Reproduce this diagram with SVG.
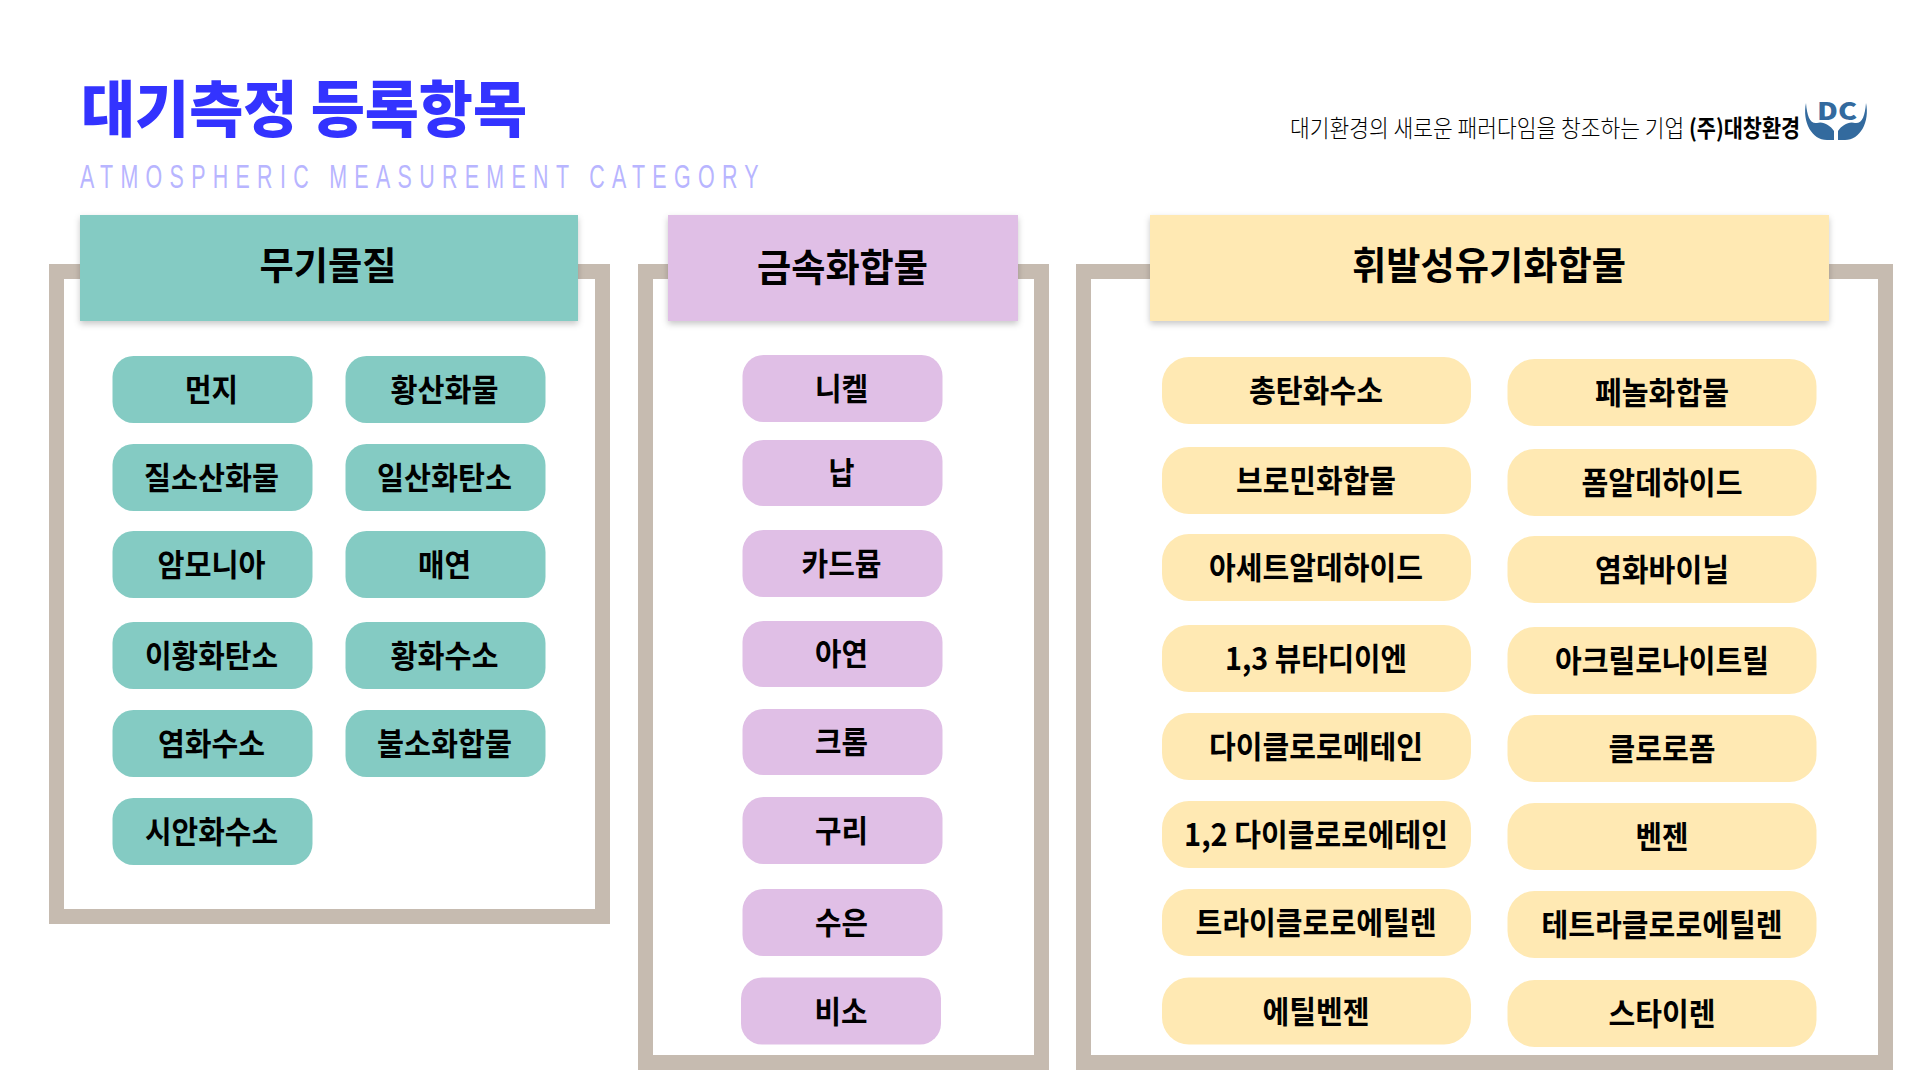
<svg xmlns="http://www.w3.org/2000/svg" width="1920" height="1080" viewBox="0 0 1920 1080">
<defs><filter id="sh" x="-5%" y="-10%" width="110%" height="125%"><feDropShadow dx="0" dy="3" stdDeviation="3" flood-color="#000" flood-opacity=".22"/></filter></defs>
<style>
text{font-family:"Noto Sans CJK KR","Noto Sans",sans-serif;text-anchor:middle;fill:#000}
.l{font-size:31px;font-weight:700}
.h{font-size:38px;font-weight:700}
.t{fill:#84cbc3}.p{fill:#e0bfe6}.y{fill:#ffe9b3}
.f{fill:none;stroke:#c6bbb0;stroke-width:15}
.b{fill:#336a9e}
</style>
<rect width="1920" height="1080" fill="#fff"/>
<g id="title"><text x="304" y="132" textLength="446" lengthAdjust="spacingAndGlyphs" style="font-size:61px;font-weight:900;fill:#3333ff">대기측정 등록항목</text>
<text transform="translate(80 188) scale(.65 1)" x="0" y="0" textLength="1044" lengthAdjust="spacing" style="font-family:'Liberation Sans',sans-serif;font-size:33px;fill:#b8b5ff;text-anchor:start">ATMOSPHERIC MEASUREMENT CATEGORY</text></g>
<g id="slogan"><text transform="translate(1290 137) scale(.895 1)" x="0" y="0" style="font-size:24px;font-weight:300;text-anchor:start">대기환경의 새로운 패러다임을 창조하는 기업</text>
<text transform="translate(1689 137) scale(.865 1)" x="0" y="0" style="font-size:24px;font-weight:700;text-anchor:start">(주)대창환경</text></g>
<g id="logo"><text x="1837" y="120" textLength="40" lengthAdjust="spacingAndGlyphs" style="font-size:24px;font-weight:900;fill:#336a9e">DC</text>
<path class="b" d="M1806 103C1802 122 1812 140 1827 140L1834 140L1834 131C1830 125 1823 121 1817 123C1810 124 1807 116 1806 103Z"/>
<path class="b" d="M1866 103C1870 122 1860 140 1845 140L1838 140L1838 131C1842 125 1849 121 1855 123C1862 124 1865 116 1866 103Z"/></g>
<g id="frames"><rect class="f" x="56.500" y="271.500" width="546" height="645"/><rect class="f" x="645.500" y="271.500" width="396" height="791"/><rect class="f" x="1083.500" y="271.500" width="802" height="791"/></g>
<g id="header-1"><rect class="t" x="80" y="215" width="498" height="106" filter="url(#sh)"/><text class="h" x="328" y="279" textLength="137" lengthAdjust="spacingAndGlyphs">무기물질</text></g>
<g id="header-2"><rect class="p" x="668" y="215" width="350" height="106" filter="url(#sh)"/><text class="h" x="842.500" y="281" textLength="171" lengthAdjust="spacingAndGlyphs">금속화합물</text></g>
<g id="header-3"><rect class="y" x="1150" y="215" width="679" height="106" filter="url(#sh)"/><text class="h" x="1489" y="279" textLength="274" lengthAdjust="spacingAndGlyphs">휘발성유기화합물</text></g>
<g id="inorganic">
<g id="n1"><rect class="t" x="112.500" y="356" width="200" height="67" rx="21"/><text class="l" x="211.500" y="401" textLength="53" lengthAdjust="spacingAndGlyphs">먼지</text></g>
<g id="n2"><rect class="t" x="345.500" y="356" width="200" height="67" rx="21"/><text class="l" x="444.500" y="401" textLength="108" lengthAdjust="spacingAndGlyphs">황산화물</text></g>
<g id="n3"><rect class="t" x="112.500" y="444" width="200" height="67" rx="21"/><text class="l" x="211.500" y="489" textLength="135" lengthAdjust="spacingAndGlyphs">질소산화물</text></g>
<g id="n4"><rect class="t" x="345.500" y="444" width="200" height="67" rx="21"/><text class="l" x="444.500" y="489" textLength="135" lengthAdjust="spacingAndGlyphs">일산화탄소</text></g>
<g id="n5"><rect class="t" x="112.500" y="531" width="200" height="67" rx="21"/><text class="l" x="211.500" y="576" textLength="108" lengthAdjust="spacingAndGlyphs">암모니아</text></g>
<g id="n6"><rect class="t" x="345.500" y="531" width="200" height="67" rx="21"/><text class="l" x="444.500" y="576" textLength="53" lengthAdjust="spacingAndGlyphs">매연</text></g>
<g id="n7"><rect class="t" x="112.500" y="622" width="200" height="67" rx="21"/><text class="l" x="211.500" y="667" textLength="133" lengthAdjust="spacingAndGlyphs">이황화탄소</text></g>
<g id="n8"><rect class="t" x="345.500" y="622" width="200" height="67" rx="21"/><text class="l" x="444.500" y="667" textLength="108" lengthAdjust="spacingAndGlyphs">황화수소</text></g>
<g id="n9"><rect class="t" x="112.500" y="710" width="200" height="67" rx="21"/><text class="l" x="211.500" y="755" textLength="107" lengthAdjust="spacingAndGlyphs">염화수소</text></g>
<g id="n10"><rect class="t" x="345.500" y="710" width="200" height="67" rx="21"/><text class="l" x="444.500" y="755" textLength="135" lengthAdjust="spacingAndGlyphs">불소화합물</text></g>
<g id="n11"><rect class="t" x="112.500" y="798" width="200" height="67" rx="21"/><text class="l" x="211.500" y="843" textLength="133" lengthAdjust="spacingAndGlyphs">시안화수소</text></g>
</g>
<g id="metal">
<g id="m1"><rect class="p" x="742.500" y="355" width="200" height="67" rx="21"/><text class="l" x="841.500" y="400" textLength="53" lengthAdjust="spacingAndGlyphs">니켈</text></g>
<g id="m2"><rect class="p" x="742.500" y="440" width="200" height="66" rx="21"/><text class="l" x="841.500" y="484" textLength="26" lengthAdjust="spacingAndGlyphs">납</text></g>
<g id="m3"><rect class="p" x="742.500" y="530" width="200" height="67" rx="21"/><text class="l" x="841.500" y="575" textLength="80" lengthAdjust="spacingAndGlyphs">카드뮴</text></g>
<g id="m4"><rect class="p" x="742.500" y="621" width="200" height="66" rx="21"/><text class="l" x="841.500" y="665" textLength="53" lengthAdjust="spacingAndGlyphs">아연</text></g>
<g id="m5"><rect class="p" x="742.500" y="709" width="200" height="66" rx="21"/><text class="l" x="841.500" y="753" textLength="53" lengthAdjust="spacingAndGlyphs">크롬</text></g>
<g id="m6"><rect class="p" x="742.500" y="797" width="200" height="67" rx="21"/><text class="l" x="841.500" y="842" textLength="53" lengthAdjust="spacingAndGlyphs">구리</text></g>
<g id="m7"><rect class="p" x="742.500" y="889" width="200" height="67" rx="21"/><text class="l" x="841.500" y="934" textLength="53" lengthAdjust="spacingAndGlyphs">수은</text></g>
<g id="m8"><rect class="p" x="741" y="977.500" width="200" height="67" rx="21"/><text class="l" x="841" y="1022.500" textLength="53" lengthAdjust="spacingAndGlyphs">비소</text></g>
</g>
<g id="voc-left">
<g id="v1"><rect class="y" x="1162" y="357" width="309" height="67" rx="27"/><text class="l" x="1316" y="402" textLength="134" lengthAdjust="spacingAndGlyphs">총탄화수소</text></g>
<g id="v2"><rect class="y" x="1162" y="447" width="309" height="67" rx="27"/><text class="l" x="1316" y="492" textLength="160" lengthAdjust="spacingAndGlyphs">브로민화합물</text></g>
<g id="v3"><rect class="y" x="1162" y="534" width="309" height="67" rx="27"/><text class="l" x="1316" y="579" textLength="214" lengthAdjust="spacingAndGlyphs">아세트알데하이드</text></g>
<g id="v4"><rect class="y" x="1162" y="625" width="309" height="67" rx="27"/><text class="l" x="1316" y="670" textLength="182" lengthAdjust="spacingAndGlyphs">1,3 뷰타디이엔</text></g>
<g id="v5"><rect class="y" x="1162" y="713" width="309" height="67" rx="27"/><text class="l" x="1316" y="758" textLength="214" lengthAdjust="spacingAndGlyphs">다이클로로메테인</text></g>
<g id="v6"><rect class="y" x="1162" y="801" width="309" height="67" rx="27"/><text class="l" x="1316" y="846" textLength="264" lengthAdjust="spacingAndGlyphs">1,2 다이클로로에테인</text></g>
<g id="v7"><rect class="y" x="1162" y="889" width="309" height="67" rx="27"/><text class="l" x="1316" y="934" textLength="241" lengthAdjust="spacingAndGlyphs">트라이클로로에틸렌</text></g>
<g id="v8"><rect class="y" x="1162" y="977.500" width="309" height="67" rx="27"/><text class="l" x="1316" y="1022.500" textLength="107" lengthAdjust="spacingAndGlyphs">에틸벤젠</text></g>
</g>
<g id="voc-right">
<g id="w1"><rect class="y" x="1507.500" y="359" width="309" height="67" rx="27"/><text class="l" x="1662" y="404" textLength="134" lengthAdjust="spacingAndGlyphs">페놀화합물</text></g>
<g id="w2"><rect class="y" x="1507.500" y="449" width="309" height="67" rx="27"/><text class="l" x="1662" y="494" textLength="161" lengthAdjust="spacingAndGlyphs">폼알데하이드</text></g>
<g id="w3"><rect class="y" x="1507.500" y="536" width="309" height="67" rx="27"/><text class="l" x="1662" y="581" textLength="134" lengthAdjust="spacingAndGlyphs">염화바이닐</text></g>
<g id="w4"><rect class="y" x="1507.500" y="627" width="309" height="67" rx="27"/><text class="l" x="1662" y="672" textLength="214" lengthAdjust="spacingAndGlyphs">아크릴로나이트릴</text></g>
<g id="w5"><rect class="y" x="1507.500" y="715" width="309" height="67" rx="27"/><text class="l" x="1662" y="760" textLength="107" lengthAdjust="spacingAndGlyphs">클로로폼</text></g>
<g id="w6"><rect class="y" x="1507.500" y="803" width="309" height="67" rx="27"/><text class="l" x="1662" y="848" textLength="53" lengthAdjust="spacingAndGlyphs">벤젠</text></g>
<g id="w7"><rect class="y" x="1507.500" y="891" width="309" height="67" rx="27"/><text class="l" x="1662" y="936" textLength="241" lengthAdjust="spacingAndGlyphs">테트라클로로에틸렌</text></g>
<g id="w8"><rect class="y" x="1507.500" y="980" width="309" height="67" rx="27"/><text class="l" x="1662" y="1025" textLength="107" lengthAdjust="spacingAndGlyphs">스타이렌</text></g>
</g>
</svg>
